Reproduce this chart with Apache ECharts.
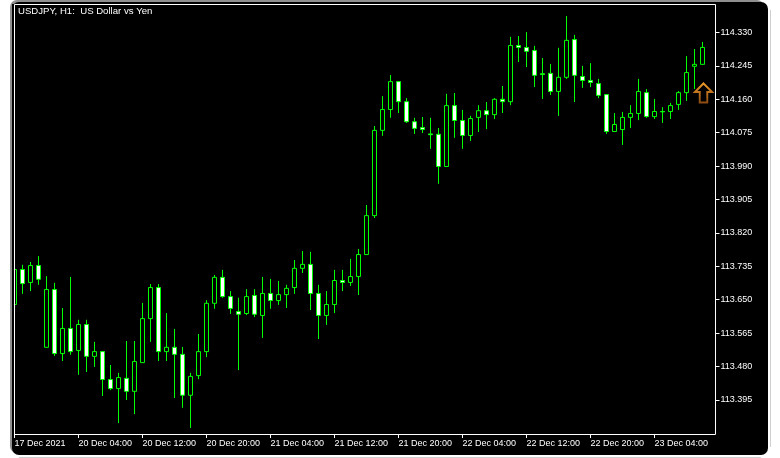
<!DOCTYPE html>
<html>
<head>
<meta charset="utf-8">
<style>html,body{margin:0;padding:0;background:#fff}#c{width:780px;height:458px}</style>
<script src="https://cdn.jsdelivr.net/npm/echarts@6/dist/echarts.min.js"></script>
</head>
<body>
<div id="c"></div>
<script>
const chartTitle = 'USDJPY, H1:  US Dollar vs Yen';
const timeLabels = ['17 Dec 2021','20 Dec 04:00','20 Dec 12:00','20 Dec 20:00','21 Dec 04:00','21 Dec 12:00','21 Dec 20:00','22 Dec 04:00','22 Dec 12:00','22 Dec 20:00','23 Dec 04:00'];
const priceTicks = [114.330,114.245,114.160,114.075,113.990,113.905,113.820,113.735,113.650,113.565,113.480,113.395];
const opens = [113.638,113.727,113.694,113.737,113.529,113.676,113.513,113.577,113.521,113.587,113.506,113.518,113.447,113.424,113.450,113.417,113.490,113.602,113.681,113.518,113.529,113.511,113.407,113.457,113.518,113.641,113.707,113.658,113.620,113.615,113.661,113.610,113.666,113.648,113.663,113.681,113.730,113.740,113.666,113.610,113.638,113.699,113.694,113.709,113.765,113.864,114.081,114.134,114.205,114.154,114.103,114.088,114.072,114.071,113.989,114.144,114.106,114.068,114.114,114.131,114.121,114.160,114.154,114.297,114.292,114.284,114.225,114.226,114.180,114.216,114.312,114.218,114.208,114.200,114.172,114.078,114.083,114.114,114.124,114.177,114.116,114.129,114.129,114.147,114.177,114.244,114.249];
const closes = [113.727,113.691,113.737,113.702,113.676,113.513,113.577,113.518,113.587,113.506,113.518,113.447,113.424,113.452,113.417,113.493,113.602,113.681,113.518,113.529,113.511,113.407,113.455,113.518,113.641,113.707,113.658,113.628,113.613,113.658,113.613,113.666,113.648,113.663,113.679,113.730,113.740,113.666,113.610,113.638,113.699,113.694,113.709,113.765,113.864,114.081,114.134,114.205,114.154,114.103,114.086,114.083,114.070,113.989,114.144,114.106,114.068,114.111,114.131,114.121,114.160,114.154,114.297,114.292,114.282,114.221,114.223,114.180,114.216,114.310,114.221,114.208,114.203,114.170,114.078,114.096,114.114,114.124,114.180,114.116,114.129,114.128,114.144,114.177,114.228,114.249,114.292];
const lows = [113.637,113.665,113.672,113.688,113.529,113.507,113.494,113.510,113.459,113.466,113.479,113.405,113.420,113.336,113.395,113.359,113.490,113.543,113.494,113.494,113.400,113.375,113.324,113.448,113.504,113.627,113.655,113.614,113.471,113.611,113.606,113.553,113.627,113.637,113.629,113.665,113.718,113.624,113.550,113.586,113.616,113.672,113.685,113.662,113.765,113.858,114.067,114.113,114.125,114.100,114.072,114.074,114.034,113.945,113.988,114.062,114.034,114.054,114.077,114.084,114.110,114.125,114.145,114.255,114.242,114.191,114.161,114.171,114.118,114.212,114.153,114.189,114.191,114.163,114.072,114.077,114.044,114.087,114.107,114.113,114.110,114.100,114.110,114.133,114.156,114.186,114.248];
const highs = [113.731,113.739,113.746,113.761,113.710,113.693,113.629,113.708,113.599,113.599,113.543,113.518,113.484,113.464,113.545,113.545,113.642,113.690,113.690,113.616,113.576,113.530,113.464,113.563,113.649,113.713,113.726,113.672,113.655,113.677,113.677,113.708,113.703,113.698,113.688,113.751,113.774,113.772,113.688,113.672,113.726,113.726,113.754,113.779,113.891,114.092,114.168,114.222,114.206,114.163,114.113,114.115,114.113,114.087,114.174,114.176,114.133,114.118,114.145,114.153,114.163,114.194,114.319,114.321,114.331,114.296,114.265,114.250,114.291,114.372,114.324,114.245,114.252,114.212,114.173,114.125,114.128,114.145,114.212,114.186,114.161,114.140,114.151,114.181,114.270,114.288,114.306];
const signalArrow = {bar: 86, price: 114.176};

const barStep = 8;
const categories = [];
for (let i = 0; i < opens.length + 2; i++) categories.push(i % barStep === 0 && timeLabels[i / barStep] ? timeLabels[i / barStep] : ' ');
const candles = opens.map((o, i) => [o, closes[i], lows[i], highs[i]]);
const font = '"Liberation Sans", Arial, sans-serif';

const chart = echarts.init(document.getElementById('c'), null, {renderer: 'canvas'});
chart.setOption({
  animation: false,
  backgroundColor: '#ffffff',
  title: {text: chartTitle, left: 18, top: 6, padding: 0, textStyle: {color: '#fff', fontFamily: font, fontSize: 9.6, fontWeight: 'normal'}},
  grid: {left: 14.5, top: 4, width: 704, height: 430, containLabel: false},
  xAxis: {
    type: 'category', data: categories, boundaryGap: false,
    axisLine: {show: false},
    splitLine: {show: false},
    axisTick: {show: true, alignWithLabel: true, length: 4, lineStyle: {color: '#fff', width: 1},
      interval: i => i % barStep === 0 && i < opens.length},
    axisLabel: {color: '#fff', fontFamily: font, fontSize: 9, align: 'left', margin: 5, interval: barStep - 1, hideOverlap: false}
  },
  yAxis: {
    type: 'value', position: 'right', offset: -3, min: 113.3084, max: 114.4025, scale: true,
    splitLine: {show: false},
    axisLine: {show: false},
    axisTick: {show: true, length: 4, lineStyle: {color: '#fff', width: 1}, customValues: priceTicks},
    axisLabel: {color: '#fff', fontFamily: font, fontSize: 9, margin: 5, customValues: priceTicks, formatter: v => v.toFixed(3)}
  },
  series: [{
    type: 'candlestick', barWidth: 4, z: 5, clip: true,
    data: candles,
    itemStyle: {color: '#000', color0: '#fff', borderColor: '#00ff00', borderColor0: '#00ff00', borderColorDoji: '#00ff00', borderWidth: 1},
    markPoint: {
      silent: true, animation: false, label: {show: false},
      symbol: 'path://M9 0 L18 8.5 L13 8.5 L13 19 L5 19 L5 8.5 L0 8.5 Z',
      symbolSize: [17, 19], symbolOffset: [1, 0],
      itemStyle: {color: 'rgba(0,0,0,0)', borderWidth: 2, borderColor: {type: 'linear', x: 0, y: 0, x2: 0, y2: 1, colorStops: [{offset: 0, color: '#f09a28'}, {offset: 1, color: '#8a4a12'}]}},
      data: [{coord: [signalArrow.bar, signalArrow.price]}]
    }
  }],
  graphic: [
    {type: 'rect', z: -20, silent: true, shape: {x: 10, y: 0, width: 754, height: 453, r: 7}, style: {fill: '#8f8f8f'}},
    {type: 'rect', z: -19, silent: true, shape: {x: 12, y: 2, width: 756, height: 453, r: 7}, style: {fill: '#000'}},
    {type: 'rect', z: -20, silent: true, shape: {x: 770, y: 10, width: 1, height: 437}, style: {fill: '#cfcfcf'}},
    {type: 'rect', z: -20, silent: true, shape: {x: 19, y: 457, width: 742, height: 1}, style: {fill: '#cfcfcf'}},
    {type: 'rect', z: 40, silent: true, shape: {x: 12, y: 4, width: 3, height: 430}, style: {fill: '#000'}},
    {type: 'rect', z: 50, silent: true, shape: {x: 14.5, y: 4.5, width: 701, height: 430}, style: {fill: 'none', stroke: '#fff', lineWidth: 1}}
  ]
});
</script>
</body>
</html>
